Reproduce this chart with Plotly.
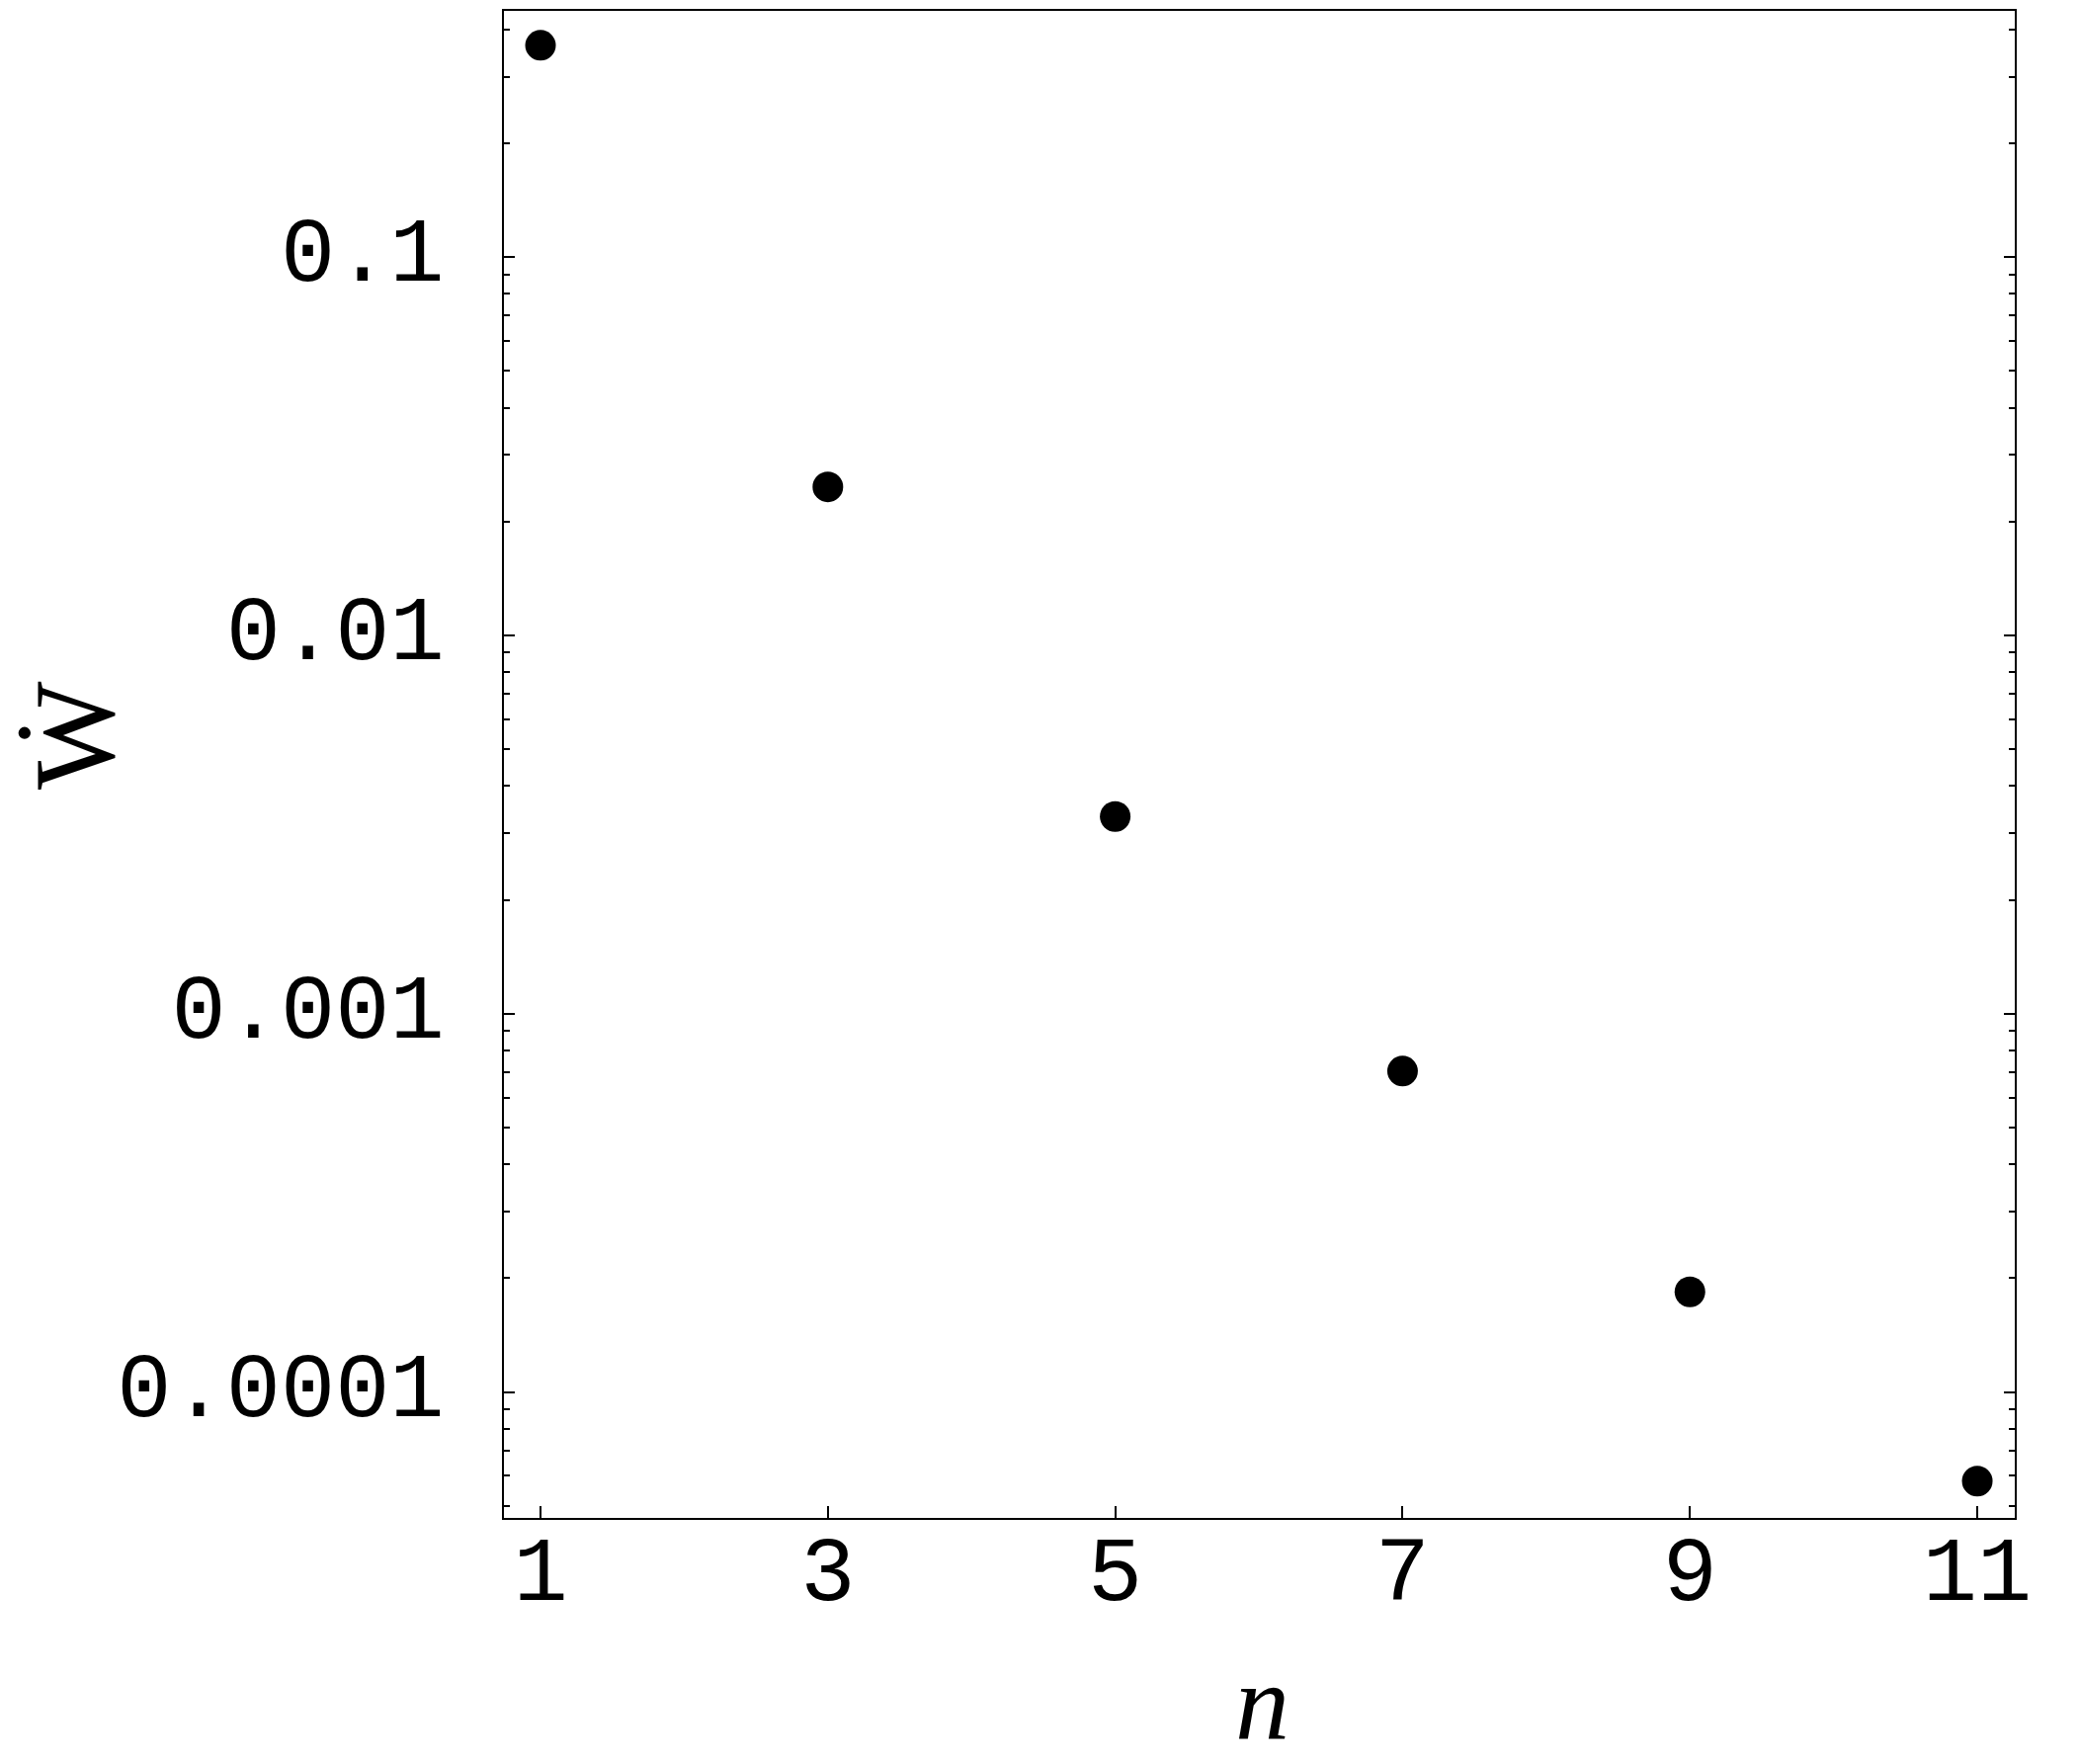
import plotly.graph_objects as go

# Data
n_values = [1, 3, 5, 7, 9, 11]
w_values = [0.363, 0.0247, 0.00332, 0.000705, 0.000184, 0.0000581]

x_tick_vals = [1, 3, 5, 7, 9, 11]
x_tick_text = ["1", "3", "5", "7", "9", "11"]
y_tick_vals = [0.1, 0.01, 0.001, 0.0001]
y_tick_text = ["0.1", "0.01", "0.001", "0.0001"]
minor_exponents = [-5, -4, -3, -2, -1]
minor_mantissas = [2, 3, 4, 5, 6, 7, 8, 9]
y_minor_vals = [m * 10.0 ** e for e in minor_exponents for m in minor_mantissas]

# page body has an 8px margin; compensate so the frame lands where the reference has it
OFF = 8
W, H = 2104 - OFF, 1785 - OFF
L, R, T, B = 510, 2039, 9, 1536   # frame edges in page pixels

fig = go.Figure()
fig.add_trace(go.Scatter(
    x=n_values, y=w_values, mode="markers",
    marker=dict(color="black", size=31, line=dict(width=0)),
    showlegend=False, hoverinfo="x+y",
))

tick_font = dict(family="Liberation Mono, Courier New, monospace", size=92, color="black")

fig.update_layout(
    width=W, height=H,
    margin=dict(l=L - OFF, r=W - (R - OFF), t=T - OFF, b=H - (B - OFF), pad=0),
    paper_bgcolor="white", plot_bgcolor="white",
    xaxis=dict(
        range=[0.7455, 11.261], showgrid=False, zeroline=False,
        tickmode="array", tickvals=x_tick_vals, ticktext=x_tick_text,
        ticks="inside", ticklen=12, tickwidth=2, tickcolor="black",
        showline=True, linecolor="black", linewidth=2, mirror=True,
        tickfont=tick_font, ticklabelstandoff=-29,
    ),
    yaxis=dict(
        type="log", range=[-4.333, -0.349], showgrid=False, zeroline=False,
        tickmode="array", tickvals=y_tick_vals, ticktext=y_tick_text,
        ticks="inside", ticklen=11, tickwidth=2, tickcolor="black",
        minor=dict(tickmode="array", tickvals=y_minor_vals, ticks="inside",
                   ticklen=6, tickwidth=2, tickcolor="black", showgrid=False),
        showline=True, linecolor="black", linewidth=2, mirror="ticks",
        tickfont=tick_font, ticklabelstandoff=40, ticklabelshift=-8,
    ),
)

fig.add_annotation(
    text="<i>n</i>", xref="paper", yref="paper",
    x=(1277 - L) / (R - L), y=(B - 1723) / (B - T),
    xanchor="center", yanchor="middle", showarrow=False,
    font=dict(family="Liberation Serif, Times New Roman, serif", size=110, color="black"),
)
fig.add_annotation(
    text="Ẇ", xref="paper", yref="paper",
    x=(76 - L) / (R - L), y=(B - 743) / (B - T),
    xanchor="center", yanchor="middle", showarrow=False,
    font=dict(family="Liberation Serif, Times New Roman, serif", size=116, color="black"),
    textangle=-90,
)

fig.write_html("out.html")
